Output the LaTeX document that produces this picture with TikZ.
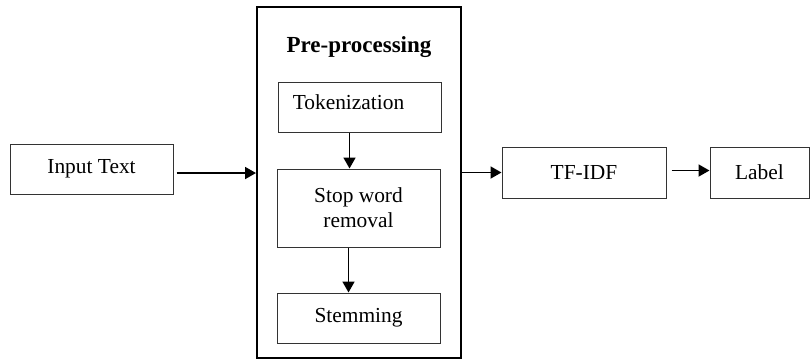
\documentclass[tikz,border=0pt]{standalone}
\usepackage{fontspec}
\setmainfont{Liberation Serif}
\usetikzlibrary{arrows.meta}
\tikzset{
  stepbox/.style={draw=black!80, line width=0.5pt, inner sep=0pt,
    minimum width=81.5pt, minimum height=25pt, align=center},
  flow/.style={line width=0.9pt, -{Triangle[length=5.5pt,width=6pt]}}
}
\begin{document}
\begin{tikzpicture}[x=0.5pt,y=-0.5pt,font=\fontsize{10.7}{12.5}\selectfont]
  \useasboundingbox (0,0) rectangle (810,360);
  \node[stepbox] (input) at (91.5,169) {Input Text};
  \node[draw, line width=1pt, inner sep=0pt, minimum width=102pt,
    minimum height=175.5pt] (pre) at (359,182.5) {};
  \node[font=\fontsize{11.5}{13}\selectfont\bfseries] (title) at (359,47) {Pre-processing};
  \node[stepbox, label={[xshift=-5.5pt,yshift=2.5pt]center:Tokenization}] (tok) at (359.5,107) {};
  \node[stepbox, minimum height=39pt] (stop) at (358.5,208) {Stop word\\removal};
  \node[stepbox] (stem) at (358.5,318) {Stemming};
  \node[stepbox, minimum width=82pt, minimum height=25.5pt] (tfidf) at (584,172.5) {TF-IDF};
  \node[stepbox, minimum width=49.5pt, minimum height=25.5pt] (label) at (759.5,172.5) {Label};
  \draw[flow] ([xshift=1.5pt,yshift=-2pt]input.east) -- ([yshift=-2pt]input.east -| pre.west);
  \draw[flow] ([xshift=-5pt]tok.south) -- ([xshift=-5pt]tok.south |- stop.north);
  \draw[flow] ([xshift=-5pt]stop.south) -- ([xshift=-5pt]stop.south |- stem.north);
  \draw[flow] (pre.east |- tfidf.west) -- (tfidf.west);
  \draw[flow] ([xshift=2.5pt,yshift=1pt]tfidf.east) -- ([yshift=1pt]label.west);
\end{tikzpicture}
\end{document}
